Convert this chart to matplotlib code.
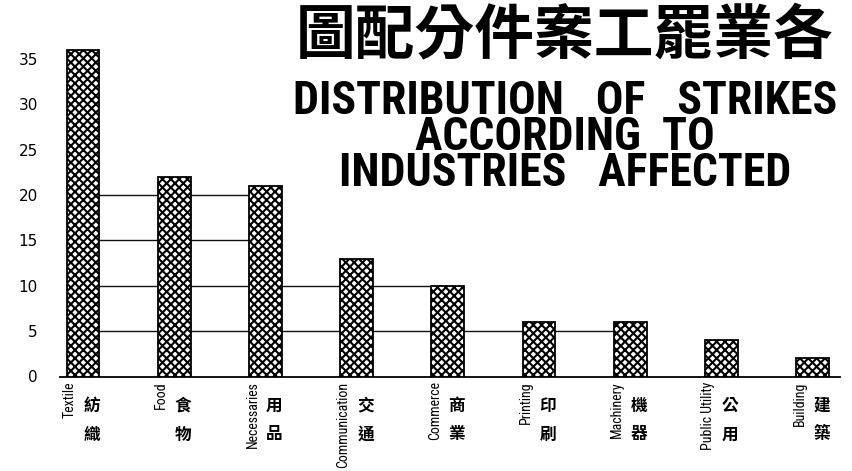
import matplotlib
matplotlib.use("Agg")
import matplotlib.pyplot as plt
from matplotlib import font_manager as fm

industries_en = ["Textile", "Food", "Necessaries", "Communication", "Commerce",
                 "Printing", "Machinery", "Public Utility", "Building"]
industries_zh = ["紡織", "食物", "用品", "交通", "商業", "印刷", "機器", "公用", "建築"]
strikes = [36, 22, 21, 13, 10, 6, 6, 4, 2]
grid_levels = [5, 10, 15, 20]
y_ticks = [0, 5, 10, 15, 20, 25, 30, 35]

title_zh = "圖配分件案工罷業各"
title_en = ["DISTRIBUTION   OF   STRIKES", "ACCORDING  TO", "INDUSTRIES   AFFECTED"]


def pick_font(cands):
    for c in cands:
        try:
            fm.findfont(fm.FontProperties(family=c), fallback_to_default=False)
            return c
        except ValueError:
            continue
    return "DejaVu Sans"


narrow = pick_font(["Liberation Sans Narrow", "DejaVu Sans Condensed", "Roboto Condensed"])
cjk = pick_font(["Noto Sans CJK TC", "Noto Sans CJK SC", "Noto Sans CJK JP"])

plt.rcParams["hatch.linewidth"] = 1.5

fig = plt.figure(figsize=(8.53, 4.71), dpi=100)
ax = fig.add_axes([60 / 853, 94.5 / 471, 780 / 853, 344.7 / 471])

x = list(range(len(strikes)))
ax.bar(x, strikes, width=0.36, color="white", edgecolor="black",
       hatch="xxxx", linewidth=1.3, zorder=3)

# horizontal rules run from the first bar to the last bar that reaches them
for lv in grid_levels:
    last = max(i for i, v in enumerate(strikes) if v >= lv)
    ax.hlines(lv, 0, last, color="#111111", linewidth=1.0, zorder=1)

ax.set_xlim(-0.252, 8.3)
ax.set_ylim(0, 38)
ax.set_yticks(y_ticks)
ax.set_yticklabels([str(t) for t in y_ticks], fontsize=11)
ax.tick_params(axis="y", length=0, pad=16)
ax.set_xticks([])
for s in ["top", "right", "left"]:
    ax.spines[s].set_visible(False)
ax.spines["bottom"].set_linewidth(1.3)

for i, (en, zh) in enumerate(zip(industries_en, industries_zh)):
    ax.annotate(en, xy=(i, 0), xytext=(-13, -5), textcoords="offset pixels",
                rotation=90, ha="center", va="top", fontsize=10,
                family=[narrow, "DejaVu Sans"], annotation_clip=False)
    for k, ch in enumerate(zh):
        ax.annotate(ch, xy=(i, 0), xytext=(9, -29 - 29 * k), textcoords="offset pixels",
                    ha="center", va="center", fontsize=12, fontweight="bold",
                    family=[cjk, "DejaVu Sans"], annotation_clip=False)

fig.text(0.662, 0.923, title_zh, ha="center", va="center", fontsize=43,
         fontweight="bold", family=[cjk, "DejaVu Sans"])

fig.text(0.662, 0.709, "\n".join(title_en), ha="center", va="center",
         multialignment="center", linespacing=0.78, fontsize=33,
         fontweight="bold", family=[narrow, "DejaVu Sans"])

fig.savefig("out.png", dpi=100, facecolor="white")
